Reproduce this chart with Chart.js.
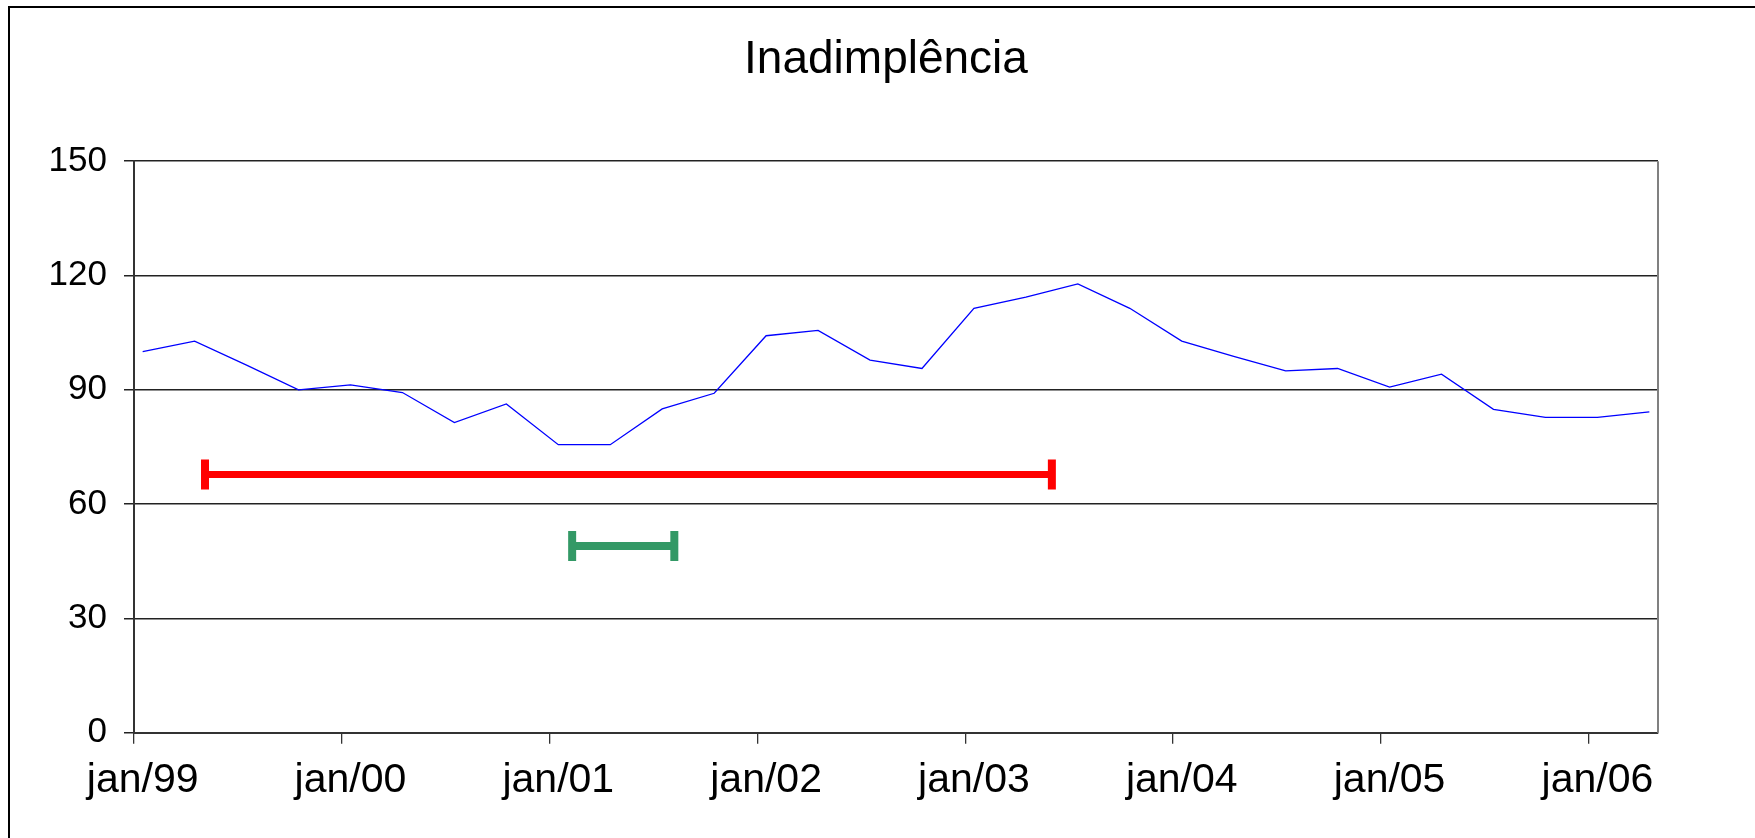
<!DOCTYPE html>
<html>
<head>
<meta charset="utf-8">
<title>Inadimplência</title>
<script src="https://cdn.jsdelivr.net/npm/chart.js@4.4.1/dist/chart.umd.min.js"></script>
<style>
  html, body { margin: 0; padding: 0; background: #fff; }
  #wrap { width: 1755px; height: 838px; }
</style>
</head>
<body>
<div id="wrap"><canvas id="chart" width="1755" height="838"></canvas></div>
<script>
// quarterly observations, Jan/99 .. Apr/06
const quarters = [
  'jan/99', 'abr/99', 'jul/99', 'out/99',
  'jan/00', 'abr/00', 'jul/00', 'out/00',
  'jan/01', 'abr/01', 'jul/01', 'out/01',
  'jan/02', 'abr/02', 'jul/02', 'out/02',
  'jan/03', 'abr/03', 'jul/03', 'out/03',
  'jan/04', 'abr/04', 'jul/04', 'out/04',
  'jan/05', 'abr/05', 'jul/05', 'out/05',
  'jan/06', 'abr/06'
]
const inadimplencia = [
  100, 102.8, 96.5, 90,
  91.3, 89.3, 81.4, 86.3,
  75.6, 75.6, 85.0, 89.1,
  104.2, 105.6, 97.8, 95.6,
  111.4, 114.3, 117.8, 111.4,
  102.8, 98.8, 95.0, 95.6,
  90.7, 94.1, 84.9, 82.8,
  82.8, 84.2
]
const yearLabels = ['jan/99', 'jan/00', 'jan/01', 'jan/02', 'jan/03', 'jan/04', 'jan/05', 'jan/06']
const yTicks = [0, 30, 60, 90, 120, 150]

// period markers, in months counted from jan/99
const periodStart = [4.1, 25.3]
const periodEnd = [53.0, 31.2]
const periodLevel = [67.8, 49.0]
const periodColor = ['#ff0000', '#339966']

const totalMonths = 88

const linePoints = quarters.map((q, i) => ({ x: i * 3 + 0.5, y: inadimplencia[i] }))

const periodSets = periodStart.map((s, i) => ({
  label: 'periodo' + (i + 1),
  data: [{ x: s, y: periodLevel[i] }, { x: periodEnd[i], y: periodLevel[i] }],
  borderColor: periodColor[i],
  backgroundColor: periodColor[i],
  borderWidth: i === 0 ? 7 : 8,
  pointStyle: 'line',
  pointRotation: 90,
  pointRadius: 15,
  pointBorderWidth: 8,
  pointBorderColor: periodColor[i],
  borderCapStyle: 'butt'
}))

const frame = {
  id: 'frame',
  afterLayout (chart) {
    // title is centred a bit right of the canvas centre in the original
    chart.titleBlock.left = 114
  },
  afterDraw (chart) {
    const ctx = chart.ctx
    const a = chart.chartArea
    ctx.save()
    ctx.strokeStyle = '#000'
    ctx.lineWidth = 2
    ctx.beginPath()
    ctx.moveTo(9, chart.height + 5)
    ctx.lineTo(9, 7)
    ctx.lineTo(chart.width + 5, 7)
    ctx.stroke()
    ctx.strokeStyle = '#808080'
    ctx.beginPath()
    ctx.moveTo(a.right, a.top)
    ctx.lineTo(a.right, a.bottom)
    ctx.stroke()
    ctx.restore()
  }
}

Chart.defaults.font.family = '"Liberation Sans", Arial, sans-serif'
Chart.defaults.color = '#000'

new Chart(document.getElementById('chart').getContext('2d'), {
  type: 'line',
  data: {
    datasets: [
      {
        label: 'Inadimplência',
        data: linePoints,
        borderColor: '#0000ff',
        borderWidth: 1.3,
        pointRadius: 0,
        tension: 0
      },
      ...periodSets
    ]
  },
  options: {
    responsive: false,
    animation: false,
    devicePixelRatio: 1,
    layout: { padding: { left: 0, right: 97, top: 0, bottom: 21 } },
    plugins: {
      legend: { display: false },
      tooltip: { enabled: false },
      title: {
        display: true,
        text: 'Inadimplência',
        font: { size: 46, weight: 'normal' },
        color: '#000',
        padding: { top: 33, bottom: 73 }
      }
    },
    scales: {
      x: {
        type: 'linear',
        min: 0,
        max: totalMonths,
        afterBuildTicks (scale) {
          scale.ticks = yearLabels.map((l, i) => ({ value: i * 12 }))
        },
        ticks: {
          autoSkip: false,
          maxRotation: 0,
          padding: 12,
          labelOffset: 8.66,
          font: { size: 41 },
          callback: (v) => yearLabels[Math.round(v / 12)] || ''
        },
        grid: {
          drawOnChartArea: false,
          drawTicks: true,
          tickLength: 11,
          color: '#333',
          lineWidth: 1.3
        },
        border: { color: '#333', width: 2 }
      },
      y: {
        min: 0,
        max: 150,
        afterBuildTicks (scale) {
          scale.ticks = yTicks.map(v => ({ value: v }))
        },
        afterFit (scale) { scale.width = 134 },
        ticks: {
          padding: 17,
          font: { size: 35 }
        },
        grid: {
          color: '#222',
          lineWidth: 1.5,
          tickLength: 10
        },
        border: { color: '#333', width: 2 }
      }
    }
  },
  plugins: [frame]
})
</script>
</body>
</html>
